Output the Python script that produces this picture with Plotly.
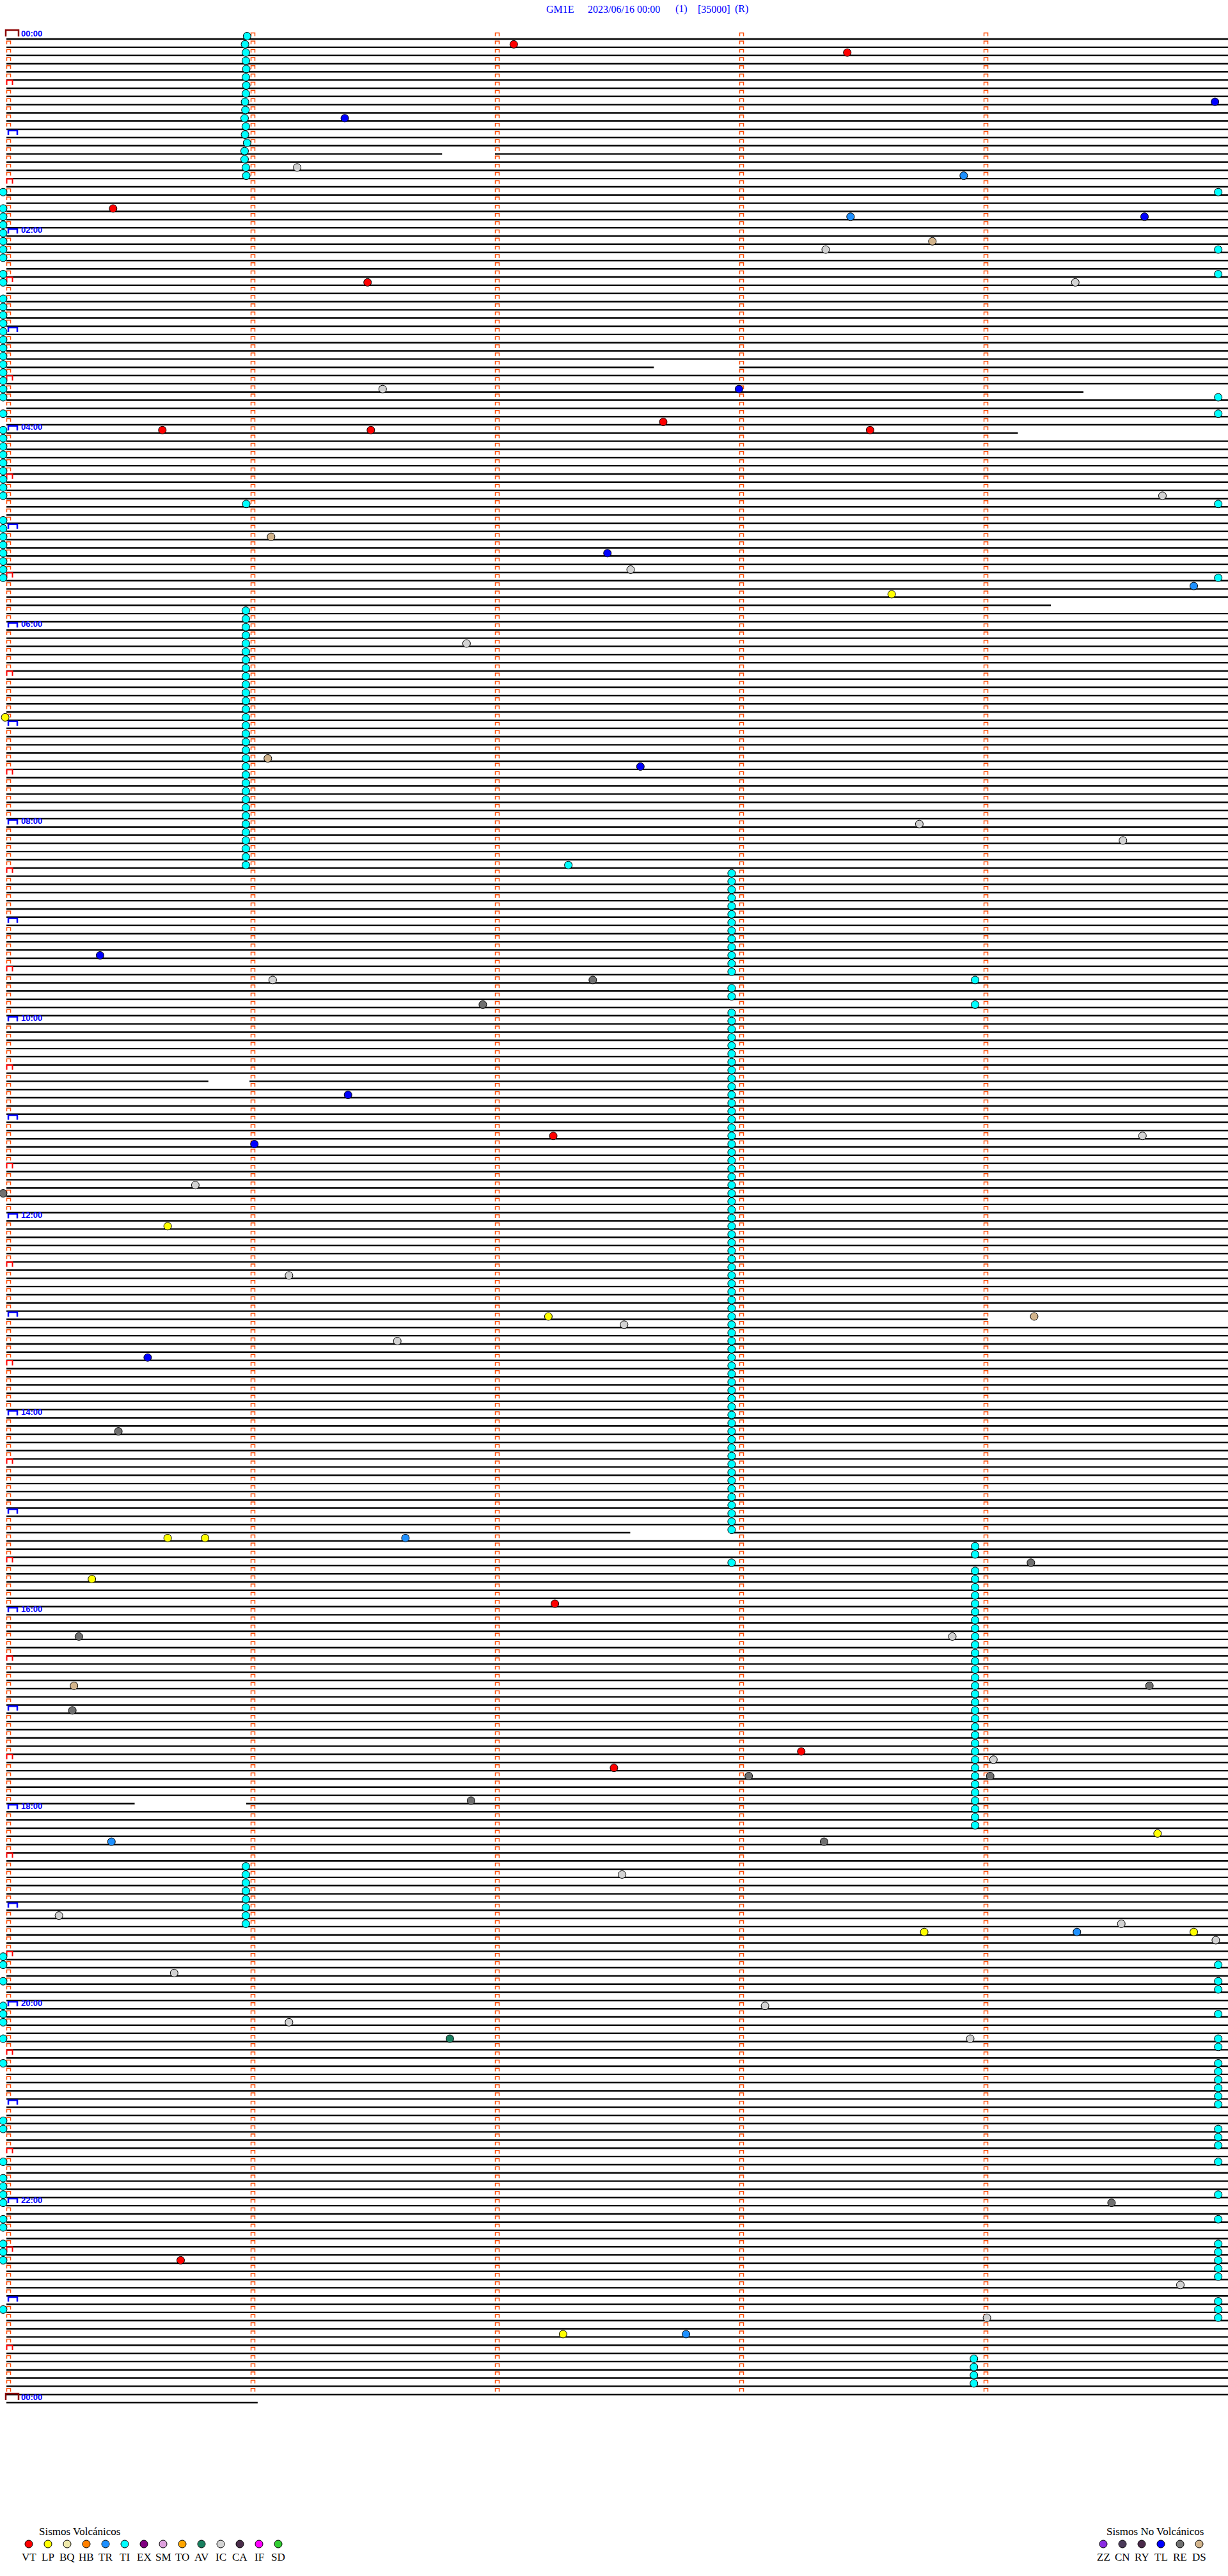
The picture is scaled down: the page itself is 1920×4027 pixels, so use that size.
import plotly.graph_objects as go

# ---------------- header / scale data ----------------
STATION = "GM1E"
DATE = "2023/06/16 00:00"
CHANNEL = "(1)"
GAIN = "[35000]"
MODE = "(R)"

N_ROWS = 289                 # 5-minute helicorder lines, 00:00 .. 24:00
ROW_SECONDS = 300
LAST_ROW_SECONDS = 61.7
minute_marks = [60, 120, 180, 240]
hour_labels = ["00:00", "02:00", "04:00", "06:00", "08:00", "10:00", "12:00",
               "14:00", "16:00", "18:00", "20:00", "22:00", "00:00"]
hour_label_rows = [0, 24, 48, 72, 96, 120, 144, 168, 192, 216, 240, 264, 288]

# missing-data gaps: (row, start s, end s)
gaps = [(14, 107, 120), (40, 159, 180), (43, 264.5, 300), (48, 248.4, 300),
        (69, 256.5, 300), (127, 49.6, 59.7), (156, 241, 300),
        (182, 153.2, 177.8), (215, 31.5, 58.9)]

# ---------------- legend data ----------------
volc_codes = ["VT", "LP", "BQ", "HB", "TR", "TI", "EX", "SM", "TO", "AV", "IC", "CA", "IF", "SD"]
volc_colors = ["#FF0000", "#FFFF00", "#EEE8AA", "#FF8000", "#1E90FF", "#00FFFF", "#800080",
               "#DDA0DD", "#FFA500", "#1A8060", "#D3D3D3", "#4A2D4A", "#FF00FF", "#32CD32"]
novolc_codes = ["ZZ", "CN", "RY", "TL", "RE", "DS"]
novolc_colors = ["#8A2BE2", "#4B3A5A", "#4A2A4A", "#0000FF", "#707070", "#D2B48C"]

# ---------------- events (row, seconds into the 5-min line) ----------------
vt_rows = [1, 2, 21, 30, 47, 48, 48, 48, 134, 191, 209, 211, 271]
vt_secs = [124.6, 206.5, 26.2, 88.7, 161.3, 38.3, 89.5, 212.1, 134.3, 134.7, 195.2, 149.2, 42.8]

lp_rows = [68, 83, 145, 156, 183, 183, 188, 219, 231, 231, 280]
lp_secs = [217.4, -0.3, 39.6, 133.1, 39.6, 48.8, 21.0, 282.7, 225.4, 291.6, 136.7]

tr_rows = [17, 22, 67, 183, 220, 231, 280]
tr_secs = [235.1, 207.3, 291.6, 98.0, 25.8, 262.9, 166.9]

tl_rows = [8, 10, 22, 43, 63, 89, 112, 129, 135, 161]
tl_secs = [296.8, 83.1, 279.5, 179.9, 147.6, 155.7, 23.0, 83.9, 60.9, 34.7]

ic_rows = [16, 26, 30, 43, 56, 65, 74, 96, 98, 115, 134, 140, 151, 157, 159, 195,
           210, 224, 229, 230, 232, 236, 240, 242, 244, 274, 278]
ic_secs = [71.4, 201.2, 262.5, 92.4, 283.9, 153.3, 113.0, 224.2, 274.2, 65.4, 279.0,
           46.4, 69.4, 151.7, 96.0, 232.3, 242.4, 151.2, 12.9, 273.8, 297.0, 41.2,
           186.3, 69.4, 236.7, 288.3, 240.8]

ds_rows = [25, 61, 88, 156, 201]
ds_secs = [227.4, 65.0, 64.2, 252.4, 16.6]

re_rows = [115, 118, 141, 170, 186, 195, 201, 204, 212, 212, 215, 220, 264]
re_secs = [144.0, 117.0, -0.8, 27.5, 251.6, 17.8, 280.7, 16.2, 182.3, 241.6, 114.1, 200.8, 271.4]

av_rows = [244]
av_secs = [108.9]

# TI (cyan) events
ti_top_rows = [0, 1, 2, 3, 4, 5, 6, 7, 8, 9, 10, 11, 12, 13, 14, 15, 16, 17]
ti_top_secs = [59.1, 58.6, 58.8, 58.8, 58.9, 58.8, 58.9, 58.8, 58.6, 58.7, 58.5,
               58.8, 58.6, 59.1, 58.5, 58.5, 58.8, 58.9]
ti_left_rows = [19, 21, 22, 23, 24, 25, 26, 27, 29, 30, 32, 33, 34, 35, 36, 37, 38, 39,
                40, 41, 42, 43, 44, 46, 48, 49, 50, 51, 52, 53, 54, 55, 56, 59, 60, 61,
                62, 63, 64, 65, 66, 234, 235, 237, 240, 241, 242, 244, 247, 254, 255,
                259, 261, 262, 263, 264, 266, 267, 269, 270, 271, 277]
ti_left_sec = -0.8
ti_right_rows = [19, 26, 29, 44, 46, 57, 66, 235, 237, 238, 241, 244, 245, 247, 248,
                 249, 250, 251, 252, 255, 256, 257, 259, 263, 266, 269, 270, 271, 272,
                 273, 276, 277, 278]
ti_right_sec = 297.6
# runs of consecutive lines: (seconds, first row, last row)
ti_runs = [(58.8, 70, 101), (178.1, 102, 114), (178.1, 116, 117), (178.1, 119, 182),
           (178.1, 186, 186), (237.9, 115, 115), (237.9, 118, 118), (237.9, 184, 185),
           (237.9, 187, 218), (58.8, 223, 230), (237.6, 283, 286)]
ti_single_rows = [57, 101]
ti_single_secs = [58.9, 138.0]

# ---------------- geometry ----------------
W, H = 1920, 4027
X0_PX = 10.0
PX_PER_SEC = 1910.0 / 300.0
ROW0_PX = 61.0
ROW_PX = 12.83


def sec_of_px(px):
    return (px - X0_PX) / PX_PER_SEC


def px_of_row(r):
    return ROW0_PX + r * ROW_PX


color_of = dict(zip(volc_codes + novolc_codes, volc_colors + novolc_colors))

fig = go.Figure()

# ---- trace lines ----
lx, ly = [], []
for r in range(N_ROWS):
    end = LAST_ROW_SECONDS if r == N_ROWS - 1 else ROW_SECONDS
    segs = [(0.0, end)]
    for gr, g0, g1 in gaps:
        if gr != r:
            continue
        new = []
        for a, b in segs:
            if g1 <= a or g0 >= b:
                new.append((a, b))
                continue
            if g0 > a:
                new.append((a, g0))
            if g1 < b:
                new.append((g1, b))
        segs = new
    for a, b in segs:
        lx += [a, b, None]
        ly += [r, r, None]
fig.add_trace(go.Scatter(x=lx, y=ly, mode="lines", line=dict(color="black", width=2.4),
                         hoverinfo="skip", showlegend=False))


# ---- minute / hour brackets ----
def bracket(xs, ys, sec0, row, w_px, top_px, bot_px, left_px=0.0):
    xa = sec0 + left_px / PX_PER_SEC
    xb = xa + w_px / PX_PER_SEC
    yt = row - top_px / ROW_PX
    yb = row - bot_px / ROW_PX
    xs += [xa, xa, xb, xb, None]
    ys += [yb, yt, yt, yb, None]


ox, oy, rx, ry, bx, by, dx, dy = [], [], [], [], [], [], [], []
for r in range(N_ROWS):
    if r < N_ROWS - 1:
        for m in minute_marks:
            bracket(ox, oy, m, r, 6, 9.5, 4.5, 0.5)
    if r % 288 == 0:
        bracket(dx, dy, 0, r, 20, 14, 4, -1)
    elif r % 12 == 0:
        bracket(bx, by, 0, r, 14, 11, 4, 3)
    elif r % 6 == 0:
        bracket(rx, ry, 0, r, 9, 12.5, 5, 0.5)
    else:
        bracket(ox, oy, 0, r, 6, 9.5, 4.5, 0.5)

for xs, ys, col, wd in [(ox, oy, "#FF4A00", 1.5), (rx, ry, "#FF0000", 2),
                        (bx, by, "#0000FF", 2.5), (dx, dy, "#8B0000", 2.5)]:
    fig.add_trace(go.Scatter(x=xs, y=ys, mode="lines", line=dict(color=col, width=wd),
                             hoverinfo="skip", showlegend=False))

# ---- events ----
ti_rows, ti_secs = list(ti_top_rows), list(ti_top_secs)
ti_rows += ti_left_rows
ti_secs += [ti_left_sec] * len(ti_left_rows)
ti_rows += ti_right_rows
ti_secs += [ti_right_sec] * len(ti_right_rows)
for s, a, b in ti_runs:
    for r in range(a, b + 1):
        ti_rows.append(r)
        ti_secs.append(s)
ti_rows += ti_single_rows
ti_secs += ti_single_secs

events = [("TI", ti_rows, ti_secs), ("VT", vt_rows, vt_secs), ("LP", lp_rows, lp_secs),
          ("TR", tr_rows, tr_secs), ("TL", tl_rows, tl_secs), ("IC", ic_rows, ic_secs),
          ("DS", ds_rows, ds_secs), ("RE", re_rows, re_secs), ("AV", av_rows, av_secs)]
CIRCLE_UP = 4.5 / ROW_PX
for code, rows, secs in events:
    fig.add_trace(go.Scatter(
        x=secs, y=[r - CIRCLE_UP for r in rows], mode="markers",
        marker=dict(size=12, color=color_of[code], line=dict(color="black", width=1)),
        name=code, showlegend=False, cliponaxis=False, hoverinfo="skip"))

# ---- legend markers (pixel overlay axes) ----
LEG_Y_TITLE, LEG_Y_DOT, LEG_Y_TXT = 3957, 3977, 3997
volc_x = [45 + 30 * i for i in range(len(volc_codes))]
novolc_x = [1725 + 30 * i for i in range(len(novolc_codes))]
fig.add_trace(go.Scatter(
    x=volc_x + novolc_x, y=[LEG_Y_DOT] * (len(volc_x) + len(novolc_x)),
    mode="markers", xaxis="x2", yaxis="y2",
    marker=dict(size=12, color=volc_colors + novolc_colors, line=dict(color="black", width=1)),
    showlegend=False, hoverinfo="skip"))

annotations = []
SERIF = "Liberation Serif, Times New Roman, serif"
for code, x in zip(volc_codes + novolc_codes, volc_x + novolc_x):
    annotations.append(dict(x=x, y=LEG_Y_TXT, xref="x2", yref="y2", text=code, showarrow=False,
                            font=dict(family=SERIF, size=17, color="black"),
                            xanchor="center", yanchor="middle"))
annotations.append(dict(x=124, y=LEG_Y_TITLE, xref="x2", yref="y2", text="Sismos Volcánicos",
                        showarrow=False, font=dict(family=SERIF, size=17, color="black"),
                        xanchor="center", yanchor="middle"))
annotations.append(dict(x=1806, y=LEG_Y_TITLE, xref="x2", yref="y2", text="Sismos No Volcánicos",
                        showarrow=False, font=dict(family=SERIF, size=17, color="black"),
                        xanchor="center", yanchor="middle"))

# title parts
for txt, xc in [(STATION, 876), (DATE, 975), (CHANNEL, 1065), (GAIN, 1116), (MODE, 1159)]:
    annotations.append(dict(x=xc, y=14, xref="x2", yref="y2", text=txt, showarrow=False,
                            font=dict(family=SERIF, size=16, color="#0000FF"),
                            xanchor="center", yanchor="middle"))

# hour labels
for lab, r in zip(hour_labels, hour_label_rows):
    annotations.append(dict(x=31, y=px_of_row(r) - 9, xref="x2", yref="y2", text="<b>" + lab + "</b>",
                            showarrow=False, font=dict(family="Liberation Sans, Arial, sans-serif",
                                                       size=13, color="#0000FF"),
                            xanchor="left", yanchor="middle"))

fig.update_layout(
    width=W, height=H, autosize=False,
    margin=dict(l=0, r=0, t=0, b=0, pad=0),
    paper_bgcolor="white", plot_bgcolor="white",
    xaxis=dict(range=[sec_of_px(0), sec_of_px(W)], visible=False, fixedrange=True),
    yaxis=dict(range=[(H - ROW0_PX) / ROW_PX, -ROW0_PX / ROW_PX], visible=False, fixedrange=True),
    xaxis2=dict(range=[0, W], overlaying="x", visible=False, fixedrange=True),
    yaxis2=dict(range=[H, 0], overlaying="y", visible=False, fixedrange=True),
    annotations=annotations,
    showlegend=False,
)

fig.write_html("out.html", config={"displayModeBar": False},
               post_script="document.body.style.margin='0';")
